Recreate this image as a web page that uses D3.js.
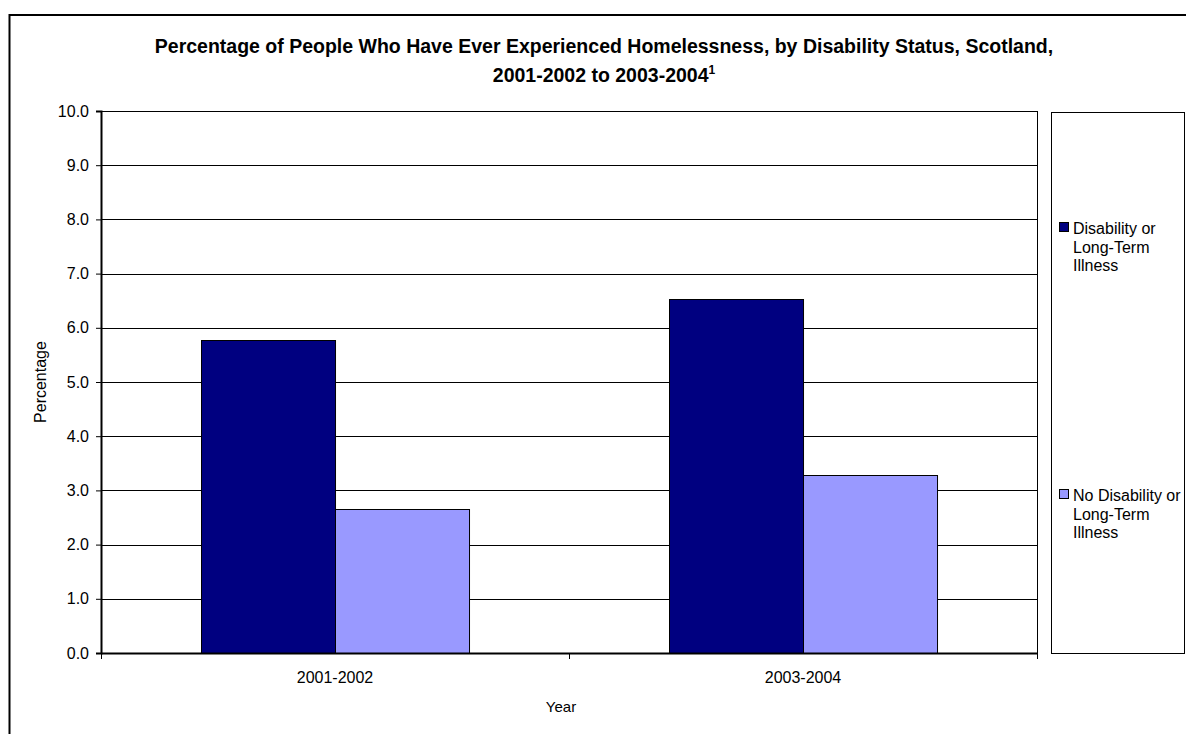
<!DOCTYPE html>
<html>
<head>
<meta charset="utf-8">
<script src="https://cdn.jsdelivr.net/npm/d3@7"></script>
<style>
  body { margin: 0; background: #fff; }
  text { font-family: "Liberation Sans", Arial, sans-serif; fill: #000; }
</style>
</head>
<body>
<script>
const width = 1186;
const height = 734;

// data
const years = ["2001-2002", "2003-2004"];
const seriesNames = ["Disability or Long-Term Illness", "No Disability or Long-Term Illness"];
const disability = [5.78, 6.53];
const noDisability = [2.66, 3.29];
const yTicks = [0, 1, 2, 3, 4, 5, 6, 7, 8, 9, 10];
const colors = ["#000080", "#9999FF"];

const rows = years.map((y, i) => ({year: y, values: [disability[i], noDisability[i]]}));

const svg = d3.select("body")
    .append("svg")
    .attr("width", width)
    .attr("height", height);

// outer chart frame (runs off the right and bottom edge)
svg.append("rect")
    .attr("x", 9.5).attr("y", 15)
    .attr("width", 1220).attr("height", 760)
    .attr("fill", "none")
    .attr("stroke", "#000")
    .attr("stroke-width", 2);

const plot = {left: 101, right: 1037, top: 111, bottom: 653};

let x = d3.scaleBand()
    .domain(years)
    .range([plot.left, plot.right]);

let xInner = d3.scaleBand()
    .domain(d3.range(seriesNames.length))
    .range([0, x.bandwidth()])
    .paddingOuter(0.746);

let y = d3.scaleLinear()
    .domain([0, 10])
    .range([plot.bottom, plot.top]);

// gridlines
svg.append("g")
    .selectAll("line")
    .data(yTicks.filter(d => d > 0))
    .enter()
    .append("line")
    .attr("x1", plot.left).attr("x2", plot.right)
    .attr("y1", d => Math.round(y(d)) + 0.5)
    .attr("y2", d => Math.round(y(d)) + 0.5)
    .attr("stroke", "#000")
    .attr("stroke-width", 1);

// plot area right border
svg.append("line")
    .attr("x1", plot.right + 0.5).attr("x2", plot.right + 0.5)
    .attr("y1", plot.top).attr("y2", plot.bottom)
    .attr("stroke", "#000");

// bars
let groups = svg.append("g")
    .selectAll("g")
    .data(rows)
    .enter()
    .append("g")
    .attr("transform", d => "translate(" + x(d.year) + ",0)");

groups.selectAll("rect")
    .data(d => d.values)
    .enter()
    .append("rect")
    .attr("x", (d, i) => Math.round(xInner(i)) + 0.5)
    .attr("y", d => Math.round(y(d)) + 0.5)
    .attr("width", xInner.bandwidth())
    .attr("height", d => y(0) - Math.round(y(d)))
    .attr("fill", (d, i) => colors[i])
    .attr("stroke", "#000")
    .attr("stroke-width", 1);

// y axis
let yAxis = svg.append("g")
    .attr("transform", "translate(" + plot.left + ",0)")
    .call(d3.axisLeft(y).tickValues(yTicks).tickFormat(d3.format(".1f")).tickSizeOuter(0).tickSize(5).tickPadding(7));
yAxis.select(".domain").attr("stroke-width", 2);
yAxis.selectAll("text").style("font-size", "16px").attr("fill", "#000");

// x axis
let xAxis = svg.append("g")
    .attr("transform", "translate(0," + plot.bottom + ")")
    .call(d3.axisBottom(x).tickSize(0).tickPadding(19));
xAxis.select(".domain").attr("stroke-width", 2);
xAxis.selectAll("text").style("font-size", "16px").attr("fill", "#000");

// category boundary ticks
svg.append("g")
    .selectAll("line")
    .data(years.map(d => x(d)).concat([plot.right]))
    .enter()
    .append("line")
    .attr("x1", d => Math.round(d) + 0.5).attr("x2", d => Math.round(d) + 0.5)
    .attr("y1", plot.bottom).attr("y2", plot.bottom + 6)
    .attr("stroke", "#000");

// axis titles
svg.append("text")
    .attr("x", 561)
    .attr("y", 712)
    .attr("text-anchor", "middle")
    .style("font-size", "15px")
    .text("Year");

svg.append("text")
    .attr("transform", "translate(46," + ((plot.top + plot.bottom) / 2) + ") rotate(-90)")
    .attr("text-anchor", "middle")
    .style("font-size", "16px")
    .text("Percentage");

// title
let title = svg.append("text")
    .attr("text-anchor", "middle")
    .style("font-size", "19.5px")
    .style("font-weight", "bold");
title.append("tspan")
    .attr("x", 604).attr("y", 53)
    .text("Percentage of People Who Have Ever Experienced Homelessness, by Disability Status, Scotland,");
title.append("tspan")
    .attr("x", 604).attr("y", 82)
    .text("2001-2002 to 2003-2004");
title.append("tspan")
    .attr("dy", -8)
    .style("font-size", "12px")
    .text("1");

// legend
svg.append("rect")
    .attr("x", 1051.5).attr("y", 112.5)
    .attr("width", 133).attr("height", 541)
    .attr("fill", "none")
    .attr("stroke", "#000");

const legendY = [234, 501];
let legend = svg.append("g")
    .selectAll("g")
    .data(seriesNames)
    .enter()
    .append("g")
    .attr("transform", (d, i) => "translate(1059," + legendY[i] + ")");

legend.append("rect")
    .attr("x", 0.5).attr("y", -11.5)
    .attr("width", 9).attr("height", 9)
    .attr("fill", (d, i) => colors[i])
    .attr("stroke", "#000");

legend.append("text")
    .style("font-size", "16px")
    .each(function(d) {
        let parts = d.replace(" Long-Term Illness", "|Long-Term|Illness").split("|");
        d3.select(this).selectAll("tspan")
            .data(parts)
            .enter()
            .append("tspan")
            .attr("x", 14)
            .attr("y", (p, k) => k * 18.5)
            .text(p => p);
    });
</script>
</body>
</html>
